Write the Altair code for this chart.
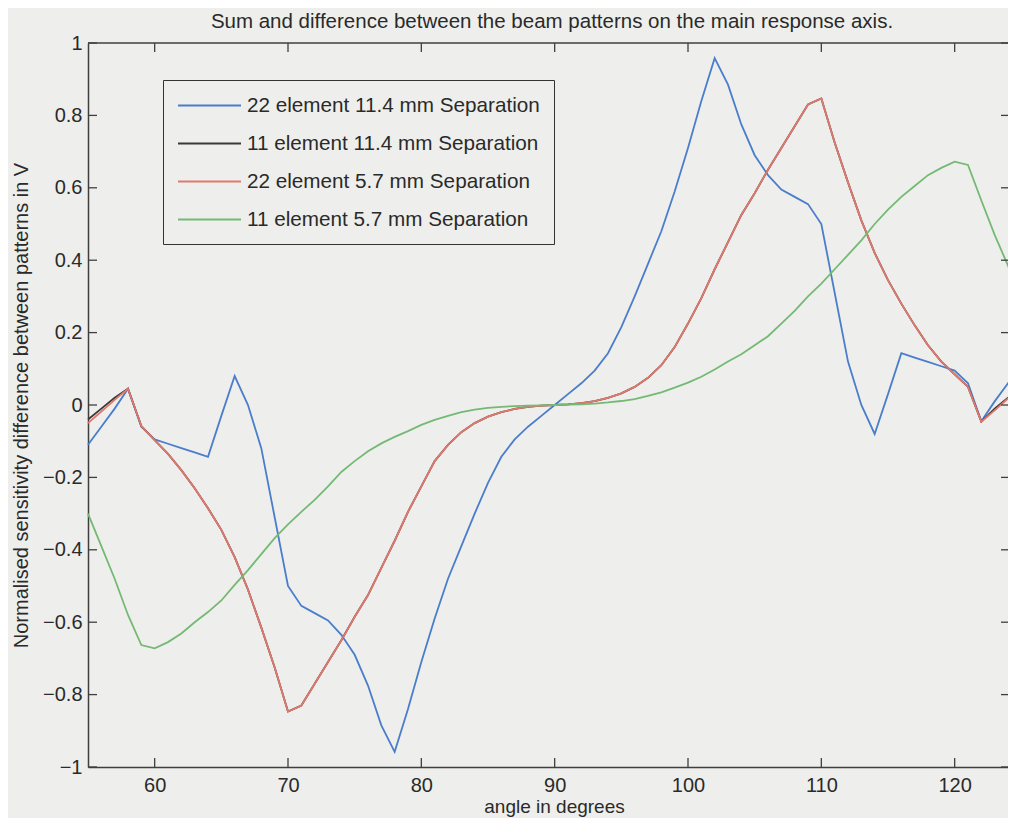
import altair as alt
import pandas as pd

# ---------------- data ----------------
angles = list(range(55, 126))

blue_22_114 = [-0.11, -0.06, -0.01, 0.045, -0.06, -0.095, -0.107, -0.119, -0.131, -0.143,
               -0.03, 0.08, 0.0, -0.12, -0.31, -0.50, -0.555, -0.575, -0.595, -0.635,
               -0.69, -0.775, -0.885, -0.958, -0.84, -0.71, -0.59, -0.48, -0.39, -0.30,
               -0.215, -0.143, -0.095, -0.06, -0.03, 0.0, 0.03, 0.06, 0.095, 0.143,
               0.215, 0.30, 0.39, 0.48, 0.59, 0.71, 0.84, 0.958, 0.885, 0.775,
               0.69, 0.635, 0.595, 0.575, 0.555, 0.50, 0.31, 0.12, 0.0, -0.08,
               0.03, 0.143, 0.131, 0.119, 0.107, 0.095, 0.06, -0.045, 0.01, 0.06,
               0.11]

black_11_114 = [-0.04, -0.01, 0.02, 0.045, -0.058, -0.097, -0.135, -0.18, -0.23, -0.285,
                -0.345, -0.42, -0.51, -0.615, -0.725, -0.847, -0.83, -0.77, -0.71, -0.65,
                -0.585, -0.525, -0.45, -0.375, -0.295, -0.225, -0.155, -0.11, -0.075, -0.05,
                -0.032, -0.02, -0.011, -0.005, -0.002, 0.0, 0.002, 0.005, 0.011, 0.02,
                0.032, 0.05, 0.075, 0.11, 0.16, 0.225, 0.295, 0.375, 0.45, 0.525,
                0.585, 0.65, 0.71, 0.77, 0.83, 0.847, 0.725, 0.615, 0.51, 0.42,
                0.345, 0.28, 0.22, 0.165, 0.12, 0.085, 0.05, -0.046, -0.01, 0.02,
                0.045]

red_22_57 = [-0.05, -0.018, 0.014, 0.045, -0.058, -0.097, -0.135, -0.18, -0.23, -0.285,
             -0.345, -0.42, -0.51, -0.615, -0.725, -0.847, -0.83, -0.77, -0.71, -0.65,
             -0.585, -0.525, -0.45, -0.375, -0.295, -0.225, -0.155, -0.11, -0.075, -0.05,
             -0.032, -0.02, -0.011, -0.005, -0.002, 0.0, 0.002, 0.005, 0.011, 0.02,
             0.032, 0.05, 0.075, 0.11, 0.16, 0.225, 0.295, 0.375, 0.45, 0.525,
             0.585, 0.65, 0.71, 0.77, 0.83, 0.847, 0.725, 0.615, 0.51, 0.42,
             0.345, 0.28, 0.22, 0.165, 0.12, 0.085, 0.05, -0.046, -0.015, 0.018,
             0.05]

green_11_57 = [-0.30, -0.39, -0.48, -0.58, -0.663, -0.672, -0.655, -0.631, -0.60, -0.572,
               -0.54, -0.497, -0.456, -0.412, -0.368, -0.33, -0.295, -0.262, -0.225, -0.185,
               -0.155, -0.128, -0.106, -0.088, -0.072, -0.055, -0.041, -0.03, -0.02, -0.013,
               -0.008, -0.005, -0.003, -0.002, -0.001, 0.0, 0.001, 0.002, 0.004, 0.007,
               0.011, 0.016, 0.025, 0.035, 0.048, 0.062, 0.078, 0.098, 0.12, 0.14,
               0.165, 0.19, 0.225, 0.26, 0.30, 0.335, 0.375, 0.415, 0.455, 0.50,
               0.54, 0.575, 0.605, 0.635, 0.655, 0.672, 0.663, 0.565, 0.47, 0.385,
               0.30]

series_names = ["22 element 11.4 mm Separation",
                "11 element 11.4 mm Separation",
                "22 element 5.7 mm Separation",
                "11 element 5.7 mm Separation"]
series_colors = ["#4a7dcb", "#3a3838", "#e2786e", "#74b974"]

x_ticks = [60, 70, 80, 90, 100, 110, 120]
y_ticks = [-1, -0.8, -0.6, -0.4, -0.2, 0, 0.2, 0.4, 0.6, 0.8, 1]

title_text = "Sum and difference between the beam patterns on the main response axis."
x_title = "angle in degrees"
y_title = "Normalised sensitivity difference between patterns in V"

# ---------------- build ----------------
rows = []
for name, vals in zip(series_names, [blue_22_114, black_11_114, red_22_57, green_11_57]):
    for a, v in zip(angles, vals):
        rows.append({"angle": a, "value": v, "series": name})
df = pd.DataFrame(rows)

W, H = 920, 724
BG = "#eeefec"
FRAME = "#3f3f3f"
TXT = "#2a2a2a"
FONT = "Liberation Sans"

xscale = alt.Scale(domain=[55, 124], nice=False, zero=False)
yscale = alt.Scale(domain=[-1, 1], nice=False, zero=False)
cscale = alt.Scale(domain=series_names, range=series_colors)

legend = alt.Legend(
    title=None, orient="none", legendX=75, legendY=37,
    symbolType="M-1,0L5,0", symbolSize=441, symbolStrokeWidth=1.8,
    labelOffset=47, rowPadding=16, padding=14,
    strokeColor="#333333", fillColor=BG,
    labelFont=FONT, labelFontSize=20.7, labelColor=TXT, labelLimit=0,
)


def x_axis():
    return alt.Axis(values=x_ticks, title=x_title)


def y_axis():
    return alt.Axis(values=y_ticks, title=y_title,
                    labelExpr="replace(toString(datum.value), '-', '\u2212')")


lines = alt.Chart(df).mark_line(strokeWidth=1.8, clip=False).encode(
    x=alt.X("angle:Q", scale=xscale, axis=x_axis()),
    y=alt.Y("value:Q", scale=yscale, axis=y_axis()),
    color=alt.Color("series:N", scale=cscale, sort=series_names, legend=legend),
)

xt = pd.DataFrame({"t": x_ticks})
yt = pd.DataFrame({"t": y_ticks})
one = pd.DataFrame({"k": [0]})
rule_kw = dict(color=FRAME, strokeWidth=1.3)

top_ticks = alt.Chart(xt).mark_rule(**rule_kw).encode(
    x=alt.X("t:Q", scale=xscale, axis=x_axis()), y=alt.value(0), y2=alt.value(9))
bottom_ticks = alt.Chart(xt).mark_rule(**rule_kw).encode(
    x=alt.X("t:Q", scale=xscale, axis=x_axis()), y=alt.value(H - 9), y2=alt.value(H))
left_ticks = alt.Chart(yt).mark_rule(**rule_kw).encode(
    y=alt.Y("t:Q", scale=yscale, axis=y_axis()), x=alt.value(0), x2=alt.value(9))
right_ticks = alt.Chart(yt).mark_rule(**rule_kw).encode(
    y=alt.Y("t:Q", scale=yscale, axis=y_axis()), x=alt.value(W - 7), x2=alt.value(W + 2))
top_border = alt.Chart(one).mark_rule(color=FRAME, strokeWidth=1.5).encode(
    x=alt.value(0), x2=alt.value(W + 2), y=alt.value(0))

chart = alt.layer(
    lines, top_border, top_ticks, bottom_ticks, left_ticks, right_ticks
).properties(
    width=W, height=H,
    autosize=alt.AutoSizeParams(type="none"),
    padding={"left": 80, "top": 35, "right": 0, "bottom": 51},
    background=BG,
    title=alt.TitleParams(text=title_text, font=FONT, fontSize=20.5, fontWeight="normal",
                          color=TXT, anchor="middle", offset=1, dx=4),
).configure_view(
    stroke=None
).configure_axis(
    grid=False, ticks=False, labelFont=FONT, labelFontSize=20, labelColor=TXT,
    titleFont=FONT, titleFontSize=20, titleFontWeight="normal", titleColor=TXT,
    domainColor=FRAME, domainWidth=1.5,
).configure_axisX(
    labelPadding=8, titleX=466, titleY=45, titleBaseline="alphabetic", titleFontSize=19,
).configure_axisY(
    labelPadding=6, titleX=-61, titleY=362, titleBaseline="alphabetic",
)

chart.save("out.html", embed_options={"renderer": "svg", "actions": False})
